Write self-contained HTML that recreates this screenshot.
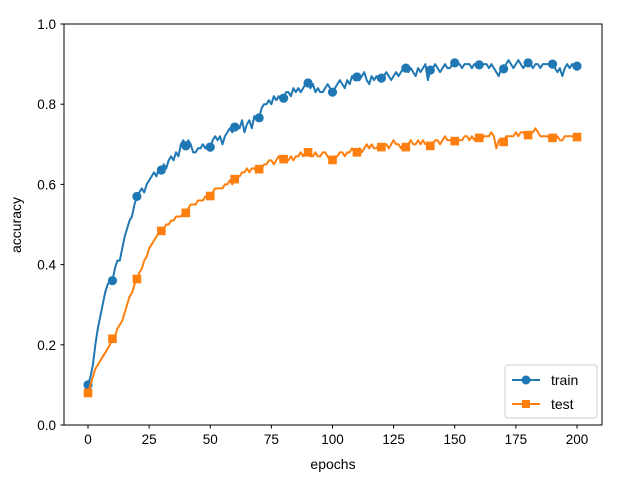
<!DOCTYPE html>
<html><head><meta charset="utf-8"><style>
body{margin:0;background:#fff}
svg{display:block;font-family:"Liberation Sans","DejaVu Sans",sans-serif}
</style></head><body>
<svg id="chart" width="632" height="479" xmlns="http://www.w3.org/2000/svg">
<rect width="632" height="479" fill="#fff"/>
<g id="grid"></g>
<g id="series"></g>
<rect x="64" y="24" width="538" height="401" fill="none" stroke="#000" stroke-width="1"/>
<g id="axes"></g>
<text x="333" y="469" text-anchor="middle" font-size="14">epochs</text>
<text transform="translate(21,225) rotate(-90)" text-anchor="middle" font-size="14">accuracy</text>
<g>
<rect x="505" y="365" width="92" height="53" rx="3" fill="#fff" stroke="#ccc"/>
<g>
<line x1="512" y1="380" x2="540" y2="380" stroke="#1f77b4" stroke-width="2"/>
<circle cx="526" cy="380" r="4.5" fill="#1f77b4"/>
<text x="551" y="385" font-size="14">train</text></g>
<g>
<line x1="512" y1="404" x2="540" y2="404" stroke="#ff7f0e" stroke-width="2"/>
<rect x="522" y="400" width="8" height="8" fill="#ff7f0e"/>
<text x="551" y="409" font-size="14">test</text></g>
</g>
</svg>
<script>
const xTicks = [0,25,50,75,100,125,150,175,200];
const yTicks = [0.0,0.2,0.4,0.6,0.8,1.0];
const yTickLabels = ["0.0","0.2","0.4","0.6","0.8","1.0"];
const trainAcc = [.10,.12,.15,.20,.24,.27,.30,.33,.35,.36,.36,
.39,.41,.41,.44,.47,.49,.51,.52,.55,.57,
.58,.59,.58,.60,.61,.62,.63,.62,.64,.636,
.65,.64,.66,.67,.66,.68,.67,.70,.71,.696,
.71,.70,.68,.68,.69,.69,.70,.69,.70,.693,
.71,.72,.71,.72,.70,.72,.73,.74,.73,.743,
.75,.74,.76,.73,.75,.76,.74,.77,.76,.766,
.79,.80,.80,.81,.80,.82,.81,.82,.81,.815,
.83,.83,.82,.84,.83,.84,.83,.84,.85,.853,
.84,.85,.83,.84,.83,.83,.84,.85,.84,.83,
.84,.85,.86,.85,.84,.86,.85,.87,.86,.868,
.86,.87,.88,.86,.85,.87,.86,.87,.86,.865,
.87,.88,.87,.86,.87,.88,.87,.88,.89,.89,
.88,.89,.88,.87,.89,.88,.89,.90,.86,.885,
.89,.90,.89,.88,.89,.90,.89,.89,.90,.903,
.90,.90,.89,.90,.90,.90,.89,.90,.90,.898,
.90,.90,.90,.89,.90,.89,.88,.87,.89,.888,
.90,.91,.90,.89,.90,.91,.90,.89,.90,.903,
.90,.89,.90,.90,.89,.90,.90,.90,.90,.90,
.89,.88,.89,.87,.89,.90,.89,.90,.89,.895];
const testAcc = [.08,.10,.12,.14,.15,.16,.17,.18,.19,.20,.215,
.22,.24,.25,.26,.28,.30,.32,.33,.35,.364,
.38,.39,.41,.42,.44,.45,.46,.47,.48,.484,
.49,.50,.50,.51,.51,.52,.52,.52,.53,.529,
.54,.55,.55,.55,.56,.56,.56,.57,.57,.571,
.58,.59,.59,.59,.59,.60,.60,.61,.60,.613,
.62,.62,.63,.63,.64,.63,.64,.64,.63,.638,
.64,.65,.65,.66,.66,.65,.66,.67,.66,.663,
.66,.66,.67,.66,.67,.67,.68,.67,.68,.68,
.67,.67,.68,.67,.67,.68,.68,.67,.66,.661,
.67,.67,.68,.68,.67,.68,.68,.69,.68,.68,
.69,.68,.69,.70,.69,.70,.69,.69,.70,.693,
.70,.70,.69,.70,.71,.70,.70,.69,.70,.693,
.70,.71,.70,.70,.71,.70,.71,.70,.70,.696,
.70,.71,.71,.70,.71,.72,.71,.71,.71,.708,
.71,.71,.71,.72,.72,.71,.72,.71,.72,.716,
.71,.72,.72,.72,.73,.72,.69,.71,.71,.706,
.72,.72,.72,.72,.73,.72,.73,.73,.72,.723,
.73,.73,.74,.73,.72,.72,.72,.72,.71,.716,
.71,.72,.71,.71,.72,.72,.72,.72,.72,.718];
const markEvery = 10;
const NS = "http://www.w3.org/2000/svg";
const xs = v => 88 + (v/200)*(577-88);
const ys = v => 425 - v*401;
const axes = document.getElementById('axes');
const ser = document.getElementById('series');
function mk(tag, attrs, parent){const e=document.createElementNS(NS,tag);for(const k in attrs)e.setAttribute(k,attrs[k]);parent.appendChild(e);return e;}
xTicks.forEach(t=>{
  const l=mk('line',{x1:xs(t),x2:xs(t),y1:425,y2:428.5,stroke:'#000','stroke-width':1},axes);
  
  
  const tx=mk('text',{x:xs(t),y:444,'text-anchor':'middle','font-size':13.5},axes);
  tx.textContent=String(t);
  
  
});
yTicks.forEach((t,i)=>{
  const l=mk('line',{x1:60.5,x2:64,y1:ys(t),y2:ys(t),stroke:'#000','stroke-width':1},axes);
  
  
  const tx=mk('text',{x:56,y:ys(t)+5,'text-anchor':'end','font-size':13.5},axes);
  tx.textContent=yTickLabels[i];
  
  
});
function draw(arr,color,name,marker){
  const p=arr.map((v,i)=>(i?'L':'M')+xs(i).toFixed(2)+','+ys(v).toFixed(2)).join('');
  const path=mk('path',{d:p,fill:'none',stroke:color,'stroke-width':2,'stroke-linejoin':'round'},ser);
  
  
  arr.forEach((v,i)=>{
    if(i%markEvery) return;
    let m;
    if(marker==='circle') m=mk('circle',{cx:xs(i),cy:ys(v),r:4.6,fill:color},ser);
    else m=mk('rect',{x:xs(i)-4.3,y:ys(v)-4.3,width:8.6,height:8.6,fill:color},ser);
    
    
  });
}
draw(trainAcc,'#1f77b4','train','circle');
draw(testAcc,'#ff7f0e','test','square');
</script>
</body></html>
